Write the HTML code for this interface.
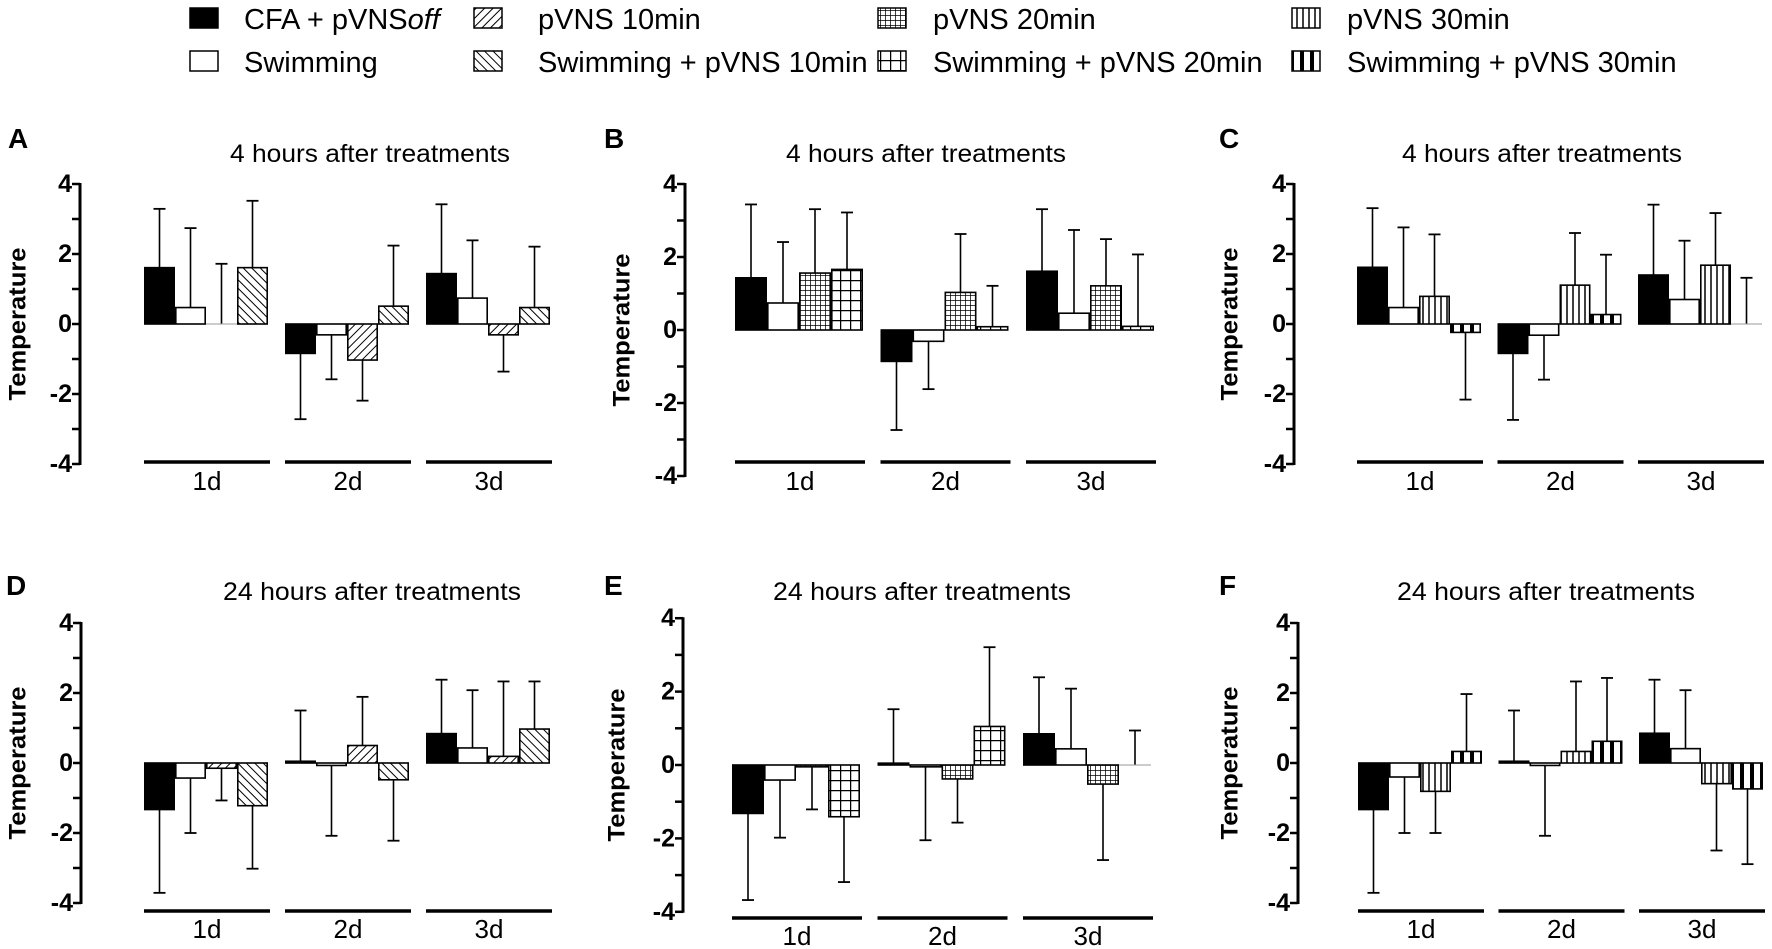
<!DOCTYPE html>
<html><head><meta charset="utf-8"><style>
html,body{margin:0;padding:0;background:#fff;}
svg{display:block;font-family:"Liberation Sans",Arial,sans-serif;}
</style></head><body>
<svg id="fig" width="1772" height="949" viewBox="0 0 1772 949" xmlns="http://www.w3.org/2000/svg">
<defs>
<pattern id="p10" patternUnits="userSpaceOnUse" width="6" height="6" patternTransform="rotate(45)"><rect width="6" height="6" fill="#fff"/><line x1="0" y1="0" x2="0" y2="6" stroke="#000" stroke-width="2"/></pattern>
<pattern id="s10" patternUnits="userSpaceOnUse" width="6" height="6" patternTransform="rotate(-45)"><rect width="6" height="6" fill="#fff"/><line x1="0" y1="0" x2="0" y2="6" stroke="#000" stroke-width="2"/></pattern>
<pattern id="p20" patternUnits="userSpaceOnUse" width="5" height="5"><rect width="5" height="5" fill="#fff"/><path d="M0 0H5M0 0V5" stroke="#000" stroke-width="1.5"/></pattern>
<pattern id="s20" patternUnits="userSpaceOnUse" width="10" height="10"><rect width="10" height="10" fill="#fff"/><path d="M0 0H10M0 0V10" stroke="#000" stroke-width="2.5"/></pattern>
<pattern id="p30" patternUnits="userSpaceOnUse" width="6" height="6"><rect width="6" height="6" fill="#fff"/><line x1="1" y1="0" x2="1" y2="6" stroke="#000" stroke-width="1.5"/></pattern>
<pattern id="s30" patternUnits="userSpaceOnUse" width="10" height="10"><rect width="10" height="10" fill="#fff"/><rect x="0" y="0" width="4" height="10" fill="#000"/></pattern>
</defs>
<g id="legend"></g>
<g id="panels"></g>
</svg>
<script>
// ---------- data ----------
const categories = ['1d','2d','3d'];
const yTicks = [4,2,0,-2,-4];
const seriesNames = ['CFA + pVNSoff','Swimming','pVNS 10min','Swimming + pVNS 10min','pVNS 20min','Swimming + pVNS 20min','pVNS 30min','Swimming + pVNS 30min'];
const panelLetters = ['A','B','C','D','E','F'];
const panelTitles = ['4 hours after treatments','4 hours after treatments','4 hours after treatments','24 hours after treatments','24 hours after treatments','24 hours after treatments'];
// means per group [1d,2d,3d] x 4 bars
const meansA = [[1.61,0.47,0,1.61],[-0.84,-0.31,-1.03,0.51],[1.44,0.74,-0.31,0.47]];
const errTopA = [[3.29,2.74,1.72,3.52],[-2.72,-1.58,-2.19,2.24],[3.42,2.39,-1.36,2.21]];
const meansB = [[1.43,0.74,1.56,1.66],[-0.86,-0.31,1.03,0.09],[1.61,0.46,1.21,0.1]];
const errTopB = [[3.44,2.41,3.31,3.22],[-2.74,-1.62,2.63,1.21],[3.31,2.74,2.49,2.07]];
const meansC = [[1.62,0.47,0.79,-0.24],[-0.84,-0.32,1.11,0.27],[1.40,0.70,1.68,0]];
const errTopC = [[3.31,2.76,2.56,-2.16],[-2.74,-1.59,2.6,1.98],[3.41,2.38,3.17,1.32]];
const meansD = [[-1.33,-0.43,-0.15,-1.22],[0.05,-0.07,0.5,-0.48],[0.84,0.43,0.19,0.97]];
const errTopD = [[-3.71,-2.0,-1.07,-3.02],[1.5,-2.08,1.89,-2.22],[2.38,2.08,2.33,2.33]];
const meansE = [[-1.32,-0.41,-0.05,-1.41],[0.05,-0.05,-0.38,1.05],[0.85,0.44,-0.52,0]];
const errTopE = [[-3.68,-1.98,-1.21,-3.19],[1.52,-2.05,-1.57,3.21],[2.39,2.08,-2.59,0.94]];
const meansF = [[-1.33,-0.4,-0.81,0.33],[0.05,-0.07,0.33,0.62],[0.85,0.41,-0.59,-0.74]];
const errTopF = [[-3.71,-2.0,-2.0,1.97],[1.5,-2.08,2.33,2.43],[2.38,2.08,-2.5,-2.89]];

// ---------- layout (not data) ----------
const fills = ['#000','#fff','url(#p10)','url(#s10)','url(#p20)','url(#s20)','url(#p30)','url(#s30)'];
const panelFills = [[0,1,2,3],[0,1,4,5],[0,1,6,7],[0,1,2,3],[0,1,4,5],[0,1,6,7]];
const panelMeans = [meansA,meansB,meansC,meansD,meansE,meansF];
const panelErr = [errTopA,errTopB,errTopC,errTopD,errTopE,errTopF];
const geo = [
 {ax:80, y0:324,u:35,  b0:144, pitch:141,  bw:31,line:462,lab:490,tx:370, ty:162,lx:8,   ly:148,yl:18},
 {ax:685,y0:330,u:36.5,b0:735, pitch:145.5,bw:32,line:462,lab:490,tx:926, ty:162,lx:604, ly:148,yl:622},
 {ax:1294,y0:324,u:35, b0:1357,pitch:140.5,bw:31,line:462,lab:490,tx:1542,ty:162,lx:1219,ly:148,yl:1230},
 {ax:81, y0:763,u:35,  b0:144, pitch:141,  bw:31,line:911,lab:938,tx:372, ty:600,lx:6,   ly:595,yl:18},
 {ax:683,y0:765,u:36.7,b0:732, pitch:145.5,bw:32,line:918,lab:945,tx:922, ty:600,lx:604, ly:595,yl:617},
 {ax:1298,y0:763,u:35, b0:1358,pitch:140.5,bw:31,line:911,lab:938,tx:1546,ty:600,lx:1219,ly:595,yl:1230}
];
const NS='http://www.w3.org/2000/svg';
function mk(tag,attrs,parent){const e=document.createElementNS(NS,tag);for(const k in attrs)e.setAttribute(k,attrs[k]);parent.appendChild(e);return e;}

// legend
const leg=document.getElementById('legend');
const legCols=[190,474,878,1292], legText=[244,538,933,1347], legRows=[8,51], legBase=[29,72];
for(let i=0;i<8;i++){
  const c=Math.floor(i/2), r=i%2;
  const g=mk('g',{},leg);
  
  
  const sw=mk('rect',{x:legCols[c],y:legRows[r],width:28,height:20,fill:fills[i],stroke:'#000','stroke-width':1.5},g);
  
  
  const t=mk('text',{x:legText[c],y:legBase[r],'font-size':29},g);
  
  
  if(i===0){t.textContent='CFA + pVNS';const ts=mk('tspan',{'font-style':'italic'},t);ts.textContent='off';}
  else t.textContent=seriesNames[i];
}

const root=document.getElementById('panels');
geo.forEach((G,p)=>{
  const g=mk('g',{},root);
  
  
  const yS=v=>G.y0-v*G.u;
  const L=mk('text',{x:G.lx,y:G.ly,'font-size':28,'font-weight':'bold'},g);
  
  
  L.textContent=panelLetters[p];
  const T=mk('text',{x:G.tx,y:G.ty,'font-size':25,'text-anchor':'middle',textLength:p<3?280:298,lengthAdjust:'spacingAndGlyphs'},g);
  
  
  T.textContent=panelTitles[p];
  const yc=yS(0);
  const YL=mk('text',{x:G.yl,y:yc,'font-size':24,'font-weight':'bold','text-anchor':'middle','dominant-baseline':'central',transform:`rotate(-90 ${G.yl} ${yc})`,textLength:153,lengthAdjust:'spacingAndGlyphs'},g);
  
  
  YL.textContent='Temperature';
  // axis
  const ax=mk('line',{x1:G.ax,y1:yS(4)-1,x2:G.ax,y2:yS(-4)+1,stroke:'#000','stroke-width':3},g);
  
  
  for(let v=-4;v<=4;v++){
    const tk=mk('line',{x1:G.ax-8,y1:yS(v),x2:G.ax,y2:yS(v),stroke:'#000','stroke-width':2.5},g);
    
    
  }
  yTicks.forEach(v=>{
    const tl=mk('text',{x:G.ax-8,y:yS(v),'font-size':25,'font-weight':'bold','text-anchor':'end','dominant-baseline':'central'},g);
    
    
    tl.textContent=String(v);
  });
  categories.forEach((cat,gi)=>{
    const gx=G.b0+gi*G.pitch;
    const gl=mk('line',{x1:gx,y1:G.line,x2:gx+4*G.bw+2,y2:G.line,stroke:'#000','stroke-width':3.5},g);
    
    
    const cl=mk('text',{x:gx+2*G.bw+1,y:G.lab,'font-size':26,'text-anchor':'middle'},g);
    
    
    cl.textContent=cat;
    for(let b=0;b<4;b++){
      const m=panelMeans[p][gi][b], e=panelErr[p][gi][b];
      const x=gx+b*G.bw, cx=x+G.bw/2;
      const top=Math.min(yS(m),yS(0)), h=Math.abs(yS(m)-yS(0));
      const eb=mk('line',{x1:cx,y1:yS(m),x2:cx,y2:yS(e),stroke:'#000','stroke-width':1.6},g);
      
      
      const cap=mk('line',{x1:cx-6,y1:yS(e),x2:cx+6,y2:yS(e),stroke:'#000','stroke-width':1.8},g);
      
      
      if(h>0.5){
        const r=mk('rect',{x:x+0.8,y:top,width:G.bw-1.6,height:h,fill:fills[panelFills[p][b]],stroke:'#000','stroke-width':1.6},g);
        
        
      } else {
        const r=mk('line',{x1:x,y1:yS(0),x2:x+G.bw,y2:yS(0),stroke:'#999','stroke-width':1},g);
        
        
      }
    }
  });
});
</script>
</body></html>
